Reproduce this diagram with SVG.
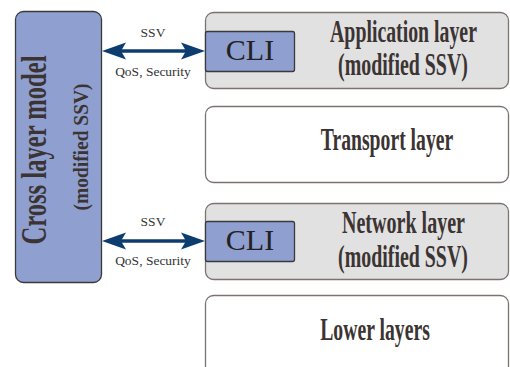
<svg xmlns="http://www.w3.org/2000/svg" width="510" height="367" viewBox="0 0 510 367">
<style>
.blue{fill:#8f9fd0;stroke:#3a3a3a;stroke-width:1.3}
.layer{fill:#e1e1e1;stroke:#7a7370;stroke-width:1.3}
.wlayer{fill:#ffffff;stroke:#7a7370;stroke-width:1.3}
text{font-family:'Liberation Serif','Times New Roman',Times,serif}
.title{font-weight:bold;fill:#3b3432;text-anchor:middle;font-size:31px}
.cli{font-size:30px;fill:#222;text-anchor:middle}
.lbl{font-size:13.5px;fill:#333;text-anchor:middle}
.arrow{stroke:#0d3c6e;stroke-width:3.5;fill:none;marker-start:url(#head);marker-end:url(#head)}
</style>
<defs>
<marker id="head" markerUnits="userSpaceOnUse" viewBox="0 -9 24 18" markerWidth="24" markerHeight="18" refX="14" refY="0" orient="auto-start-reverse">
<path d="M24,0 L0,-8.5 L5,0 L0,8.5 Z" fill="#0d3c6e"/>
</marker>
</defs>
<g id="cross-layer">
<rect class="blue" x="15.5" y="11.5" width="86" height="271" rx="8"/>
<text class="title" transform="translate(46,150) rotate(-90) scale(0.703,1)" style="font-size:35px">Cross layer model</text>
<text class="title" transform="translate(88,147) rotate(-90) scale(0.927,1)" style="font-size:21px">(modified SSV)</text>
</g>
<g id="application-layer">
<rect class="layer" x="205.5" y="12.5" width="303" height="76" rx="8"/>
<text class="title" transform="translate(403.5,42) scale(0.639,1)">Application layer</text>
<text class="title" transform="translate(403,75) scale(0.642,1)">(modified SSV)</text>
</g>
<g id="cli-app">
<rect class="blue" x="205.5" y="31.5" width="89" height="40" rx="2"/>
<text class="cli" x="250" y="60">CLI</text>
</g>
<g id="transport-layer">
<rect class="wlayer" x="205.5" y="106.5" width="303" height="76" rx="8"/>
<text class="title" transform="translate(387,150) scale(0.635,1)">Transport layer</text>
</g>
<g id="network-layer">
<rect class="layer" x="205.5" y="203.5" width="303" height="76" rx="8"/>
<text class="title" transform="translate(403.5,233) scale(0.647,1)">Network layer</text>
<text class="title" transform="translate(403,267) scale(0.642,1)">(modified SSV)</text>
</g>
<g id="cli-net">
<rect class="blue" x="205.5" y="221.5" width="89" height="40" rx="2"/>
<text class="cli" x="250" y="250">CLI</text>
</g>
<g id="lower-layers">
<rect class="wlayer" x="205.5" y="295.5" width="303" height="90" rx="8"/>
<text class="title" transform="translate(375,340) scale(0.636,1)">Lower layers</text>
</g>
<g id="connectors">
<line class="arrow" x1="112" y1="51" x2="195" y2="51"/>
<text class="lbl" x="153" y="37">SSV</text>
<text class="lbl" x="153" y="76">QoS, Security</text>
<line class="arrow" x1="112" y1="241" x2="195" y2="241"/>
<text class="lbl" x="153" y="226">SSV</text>
<text class="lbl" x="153" y="265">QoS, Security</text>
</g>
</svg>
